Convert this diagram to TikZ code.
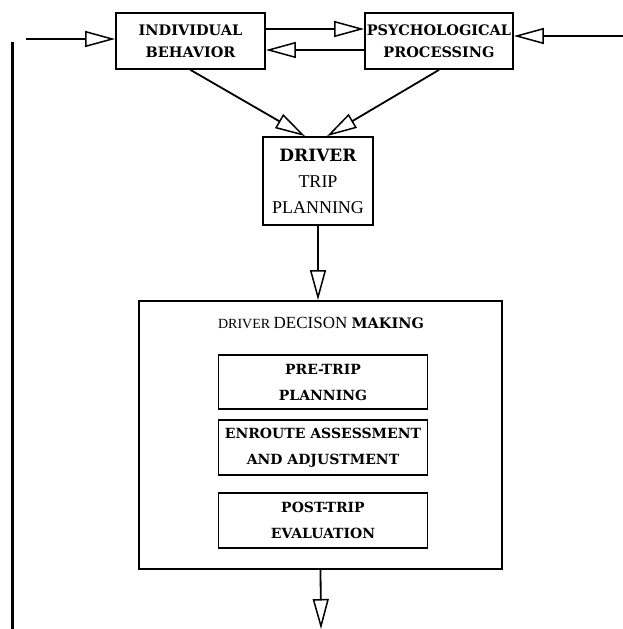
\documentclass[tikz,border=0pt]{standalone}
\usepackage{fontspec}
\setmainfont{Liberation Serif}
\newfontfamily\slabfont{DejaVu Serif}
\usetikzlibrary{arrows.meta}

\tikzset{
  box/.style={draw, line width=1.8pt, inner sep=0pt, align=center},
  arr/.style={line width=1.8pt, -{Triangle[open, length=30pt, width=16pt, line width=1.5pt]}},
  toplbl/.style={font=\slabfont\bfseries\fontsize{14.5}{22}\selectfont},
  innerlbl/.style={font=\slabfont\bfseries\fontsize{14}{26}\selectfont},
}

\begin{document}
\begin{tikzpicture}[x=1pt, y=-1pt]
    \useasboundingbox (0,0) rectangle (623,629);

    % Top boxes
    \node[box, toplbl, minimum width=149pt, minimum height=56pt] (ib) at (190.5,41) {INDIVIDUAL\\BEHAVIOR};
    \node[box, toplbl, minimum width=148pt, minimum height=56pt] (pp) at (439,41) {PSYCHOLOGICAL\\PROCESSING};

    % Trip planning box
    \node[box, minimum width=110pt, minimum height=88pt, font=\fontsize{18}{26}\selectfont] (dtp) at (318,181)
        {{\slabfont\bfseries\fontsize{17}{26}\selectfont DRIVER}\\TRIP\\PLANNING};

    % Decision making box
    \node[box, minimum width=363pt, minimum height=268pt] (dm) at (320.5,435) {};
    \node (title) at (321,323) {\fontsize{14}{16}\selectfont DRIVER \fontsize{17}{16}\selectfont DECISON
        {\slabfont\bfseries\fontsize{14.5}{16}\selectfont MAKING}};

    % Stages
    \node[box, innerlbl, minimum width=209pt, minimum height=54pt] (pre) at (323,382) {PRE-TRIP\\PLANNING};
    \node[box, innerlbl, minimum width=209pt, minimum height=55pt] (enr) at (323,447.5) {ENROUTE ASSESSMENT\\AND ADJUSTMENT};
    \node[box, innerlbl, minimum width=209pt, minimum height=55pt] (post) at (323,520.5) {POST-TRIP\\EVALUATION};

    % Arrows
    \coordinate (inL) at (26,39);
    \coordinate (inR) at (623,36);
    \coordinate (outB) at (321,629);
    \draw[arr] (inL) -- (inL -| ib.west);
    \draw[arr] (inR) -- (inR -| pp.east);
    \draw[arr] ([yshift=12pt]ib.east) -- ([yshift=12pt]pp.west);
    \draw[arr] ([yshift=-9pt]pp.west) -- ([yshift=-9pt]ib.east);
    \draw[arr] (ib.south) -- ([xshift=-13pt]dtp.north);
    \draw[arr] (pp.south) -- ([xshift=9pt]dtp.north);
    \draw[arr] (dtp.south) -- (dtp.south |- dm.north);
    \draw[arr] (dm.south) -- (outB);

    % Feedback line
    \draw[line width=3pt] (12,42) -- (12,629);

\end{tikzpicture}
\end{document}
